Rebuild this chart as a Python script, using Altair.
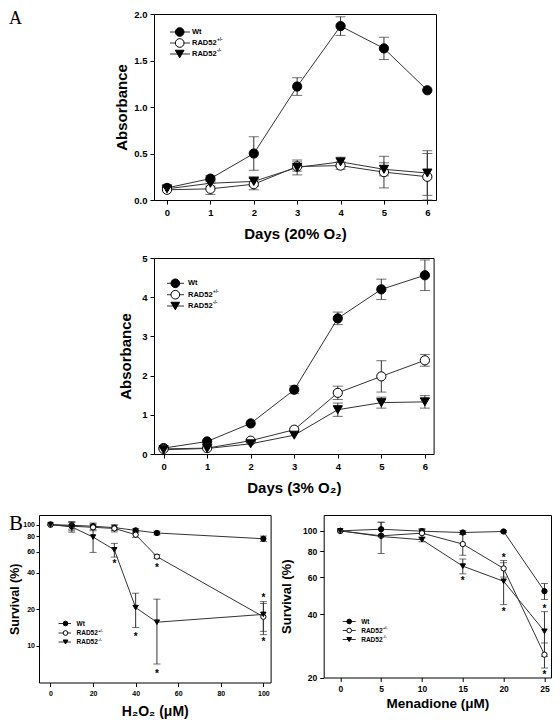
import altair as alt
import pandas as pd

# ---------------- data ----------------
series_names = ["Wt", "RAD52+/-", "RAD52-/-"]
legend_main = ["Wt", "RAD52", "RAD52"]
legend_sup = ["", "+/-", "-/-"]

days = [0, 1, 2, 3, 4, 5, 6]
# Panel A, 20% O2
a20_wt = [0.13, 0.23, 0.50, 1.22, 1.87, 1.63, 1.18]
a20_wt_err = [0.0, 0.03, 0.18, 0.095, 0.10, 0.12, 0.0]
a20_het = [0.11, 0.12, 0.17, 0.36, 0.37, 0.30, 0.25]
a20_het_err = [0.0, 0.06, 0.06, 0.05, 0.04, 0.17, 0.25]
a20_ko = [0.12, 0.18, 0.20, 0.35, 0.41, 0.33, 0.29]
a20_ko_err = [0.0, 0.03, 0.05, 0.08, 0.05, 0.07, 0.24]

# Panel A, 3% O2
a3_wt = [0.15, 0.32, 0.78, 1.64, 3.46, 4.20, 4.56]
a3_wt_err = [0.0, 0.0, 0.0, 0.10, 0.16, 0.26, 0.39]
a3_het = [0.13, 0.15, 0.34, 0.62, 1.56, 1.98, 2.39]
a3_het_err = [0.0, 0.0, 0.0, 0.0, 0.17, 0.40, 0.15]
a3_ko = [0.11, 0.14, 0.26, 0.48, 1.13, 1.31, 1.33]
a3_ko_err = [0.0, 0.0, 0.0, 0.0, 0.17, 0.14, 0.16]

# Panel B, H2O2
h2o2 = [0, 10, 20, 30, 40, 50, 100]
h_wt = [100, 98.7, 97, 94.4, 89.7, 85.3, 76.5]
h_wt_err = [0, 7, 6, 5, 3, 3, 4]
h_het = [100, 97, 95, 93, 82.6, 54.5, 17.4]
h_het_err = [0, 8, 6, 6, 4, 2, 5]
h_ko = [100, 95.6, 79, 62, 20.7, 15.7, 18.2]
h_ko_err = [0, 9, 20, 8, 6.5, 8.6, 5]
h_star_x = [30, 40, 50, 50, 100, 100]
h_star_y = [49, 12.4, 45.9, 6.1, 25.9, 11.3]

# Panel B, Menadione
men = [0, 5, 10, 15, 20, 25]
m_wt = [100, 101.8, 99.6, 98.2, 99.3, 51.6]
m_wt_err = [0, 8, 3, 2, 1, 4.5]
m_het = [100, 94.7, 97.5, 86.5, 66.2, 25.7]
m_het_err = [0, 0, 4, 10, 6, 3.5]
m_ko = [100, 94, 90.7, 67.9, 57.5, 33.2]
m_ko_err = [0, 16, 2, 5.5, 13, 8]
m_star_x = [15, 20, 20, 25, 25]
m_star_y = [59, 76.2, 42.1, 43.2, 21.1]

LINE = "#333333"
FONT = "Liberation Sans"


def long_df(xs, vals, errs):
    rows = []
    for name, v, e in zip(series_names, vals, errs):
        for x, vi, ei in zip(xs, v, e):
            rows.append({"x": x, "v": vi, "err": ei, "series": name})
    return pd.DataFrame(rows)


dummy = pd.DataFrame({"k": [0]})


def legend_layers(ys, line0, line1, sym_x, text_x, sym_size, fs):
    layers = []
    shapes = ["circle", "circle", "triangle-down"]
    fills = ["black", "white", "black"]
    for i, y in enumerate(ys):
        layers.append(
            alt.Chart(dummy).mark_rule(color=LINE, strokeWidth=1).encode(
                x=alt.value(line0), x2=alt.value(line1), y=alt.value(y)
            )
        )
        layers.append(
            alt.Chart(dummy).mark_point(
                shape=shapes[i], filled=True, fill=fills[i], stroke="black",
                strokeWidth=1, opacity=1, size=sym_size
            ).encode(x=alt.value(sym_x), y=alt.value(y))
        )
        layers.append(
            alt.Chart(dummy).mark_text(
                text=legend_main[i], font=FONT, fontSize=fs, fontWeight="bold",
                align="left", baseline="middle", color="black"
            ).encode(x=alt.value(text_x), y=alt.value(y))
        )
        if legend_sup[i]:
            layers.append(
                alt.Chart(dummy).mark_text(
                    text=legend_sup[i], font=FONT, fontSize=fs * 0.6, fontWeight="bold",
                    align="left", baseline="middle", color="black"
                ).encode(x=alt.value(text_x + 3.28 * fs + 0.5), y=alt.value(y - fs * 0.38))
            )
    return layers


def panel(df, xdom, xvals, ydom, yvals, ylog, yfmt, xtitle, ytitle, w, h,
          lab_fs, title_fs, xtp, ytp, pt_size, cap, leg, stars=None, extra=None,
          xtitle_fs=None, ytick=4, ylabpad=3):
    xs = alt.Scale(domain=xdom, nice=False, zero=False)
    if ylog:
        ys = alt.Scale(type="log", domain=ydom, nice=False)
    else:
        ys = alt.Scale(domain=ydom, nice=False, zero=False)
    xaxis = alt.Axis(values=xvals, format="d", title=xtitle, labelFontSize=lab_fs,
                     titleFontSize=xtitle_fs or title_fs, titlePadding=xtp, tickSize=4,
                     labelPadding=3)
    yaxis = alt.Axis(values=yvals, format=yfmt, title=ytitle, labelFontSize=lab_fs,
                     titleFontSize=title_fs, titlePadding=ytp, tickSize=ytick,
                     labelPadding=ylabpad)

    def X():
        return alt.X("x:Q", scale=xs, axis=xaxis)

    def Y(f):
        return alt.Y(f, scale=ys, axis=yaxis)

    shape = alt.Shape("series:N", scale=alt.Scale(domain=series_names,
                      range=["circle", "circle", "triangle-down"]), legend=None)
    fill = alt.Fill("series:N", scale=alt.Scale(domain=series_names,
                    range=["black", "white", "black"]), legend=None)
    base = alt.Chart(df)
    lines = base.mark_line(color=LINE, strokeWidth=1).encode(
        x=X(), y=Y("v:Q"), detail="series:N")
    bars = base.transform_filter("datum.err > 0").transform_calculate(
        lo="datum.v - datum.err", hi="datum.v + datum.err"
    ).mark_errorbar(color=LINE, thickness=1, ticks={"size": cap}).encode(
        x=X(), y=Y("lo:Q"), y2="hi:Q")
    pts = base.mark_point(filled=True, opacity=1, stroke="black", strokeWidth=1,
                          size=pt_size).encode(x=X(), y=Y("v:Q"), shape=shape, fill=fill)
    layers = [lines, bars, pts]
    if stars is not None:
        layers.append(alt.Chart(stars).mark_text(
            text="*", font=FONT, fontSize=10, fontWeight="bold", color="black",
            baseline="middle", dy=2).encode(x=X(), y=Y("v:Q")))
    layers += legend_layers(**leg)
    if extra is not None:
        layers += extra
    return alt.layer(*layers).properties(width=w, height=h)


dfA1 = long_df(days, [a20_wt, a20_het, a20_ko], [a20_wt_err, a20_het_err, a20_ko_err])
dfA2 = long_df(days, [a3_wt, a3_het, a3_ko], [a3_wt_err, a3_het_err, a3_ko_err])
dfB1 = long_df(h2o2, [h_wt, h_het, h_ko], [h_wt_err, h_het_err, h_ko_err])
dfB2 = long_df(men, [m_wt, m_het, m_ko], [m_wt_err, m_het_err, m_ko_err])
starsB1 = pd.DataFrame({"x": h_star_x, "v": h_star_y})
starsB2 = pd.DataFrame({"x": m_star_x, "v": m_star_y})

H1 = 186
H2 = 196
rowA1 = panel(dfA1, [-0.3, 6.2], days, [0, 2], [0, 0.5, 1.0, 1.5, 2.0], False, ".1f",
              "Days (20% O₂)", "Absorbance", 282, H1, 9.5, 15, 10, 4, 85, 10,
              dict(ys=[18, 29, 40], line0=16, line1=36, sym_x=25.7, text_x=38,
                   sym_size=75, fs=7.5))
rowA2 = panel(dfA2, [-0.22, 6.2], days, [0, 5], [0, 1, 2, 3, 4, 5], False, "d",
              "Days (3% O₂)", "Absorbance", 279.6, H2, 9.5, 15, 10, 8, 85, 10,
              dict(ys=[25.3, 36.7, 48], line0=13, line1=30, sym_x=21.3, text_x=34,
                   sym_size=75, fs=7.5))

labelB = alt.Chart(dummy).mark_text(
    text="B", font="Liberation Serif", fontSize=21, align="left", baseline="top",
    color="black").encode(x=alt.value(-30), y=alt.value(-2))

rowB1 = panel(dfB1, [-5.4, 103.4], [0, 20, 40, 60, 80, 100], [5, 120],
              [10, 20, 40, 60, 80, 100], True, "d", "H₂O₂ (μM)", "Survival (%)",
              231.6, 167.5, 7, 12.5, 8, 1, 28, 7,
              dict(ys=[108.5, 118, 127], line0=19.5, line1=32, sym_x=26.5, text_x=37.5,
                   sym_size=22, fs=6.5),
              stars=starsB1, extra=[labelB], xtitle_fs=14, ytick=3, ylabpad=1.5)
rowB2 = panel(dfB2, [-2.03, 25.8], men, [20, 119], [20, 40, 60, 80, 100], True, "d",
              "Menadione (μM)", "Survival (%)", 227.3, 162.5, 8.5, 13, 3, 9, 28, 7,
              dict(ys=[106.5, 115.5, 124.5], line0=19, line1=32, sym_x=25.5, text_x=37.5,
                   sym_size=22, fs=6.5),
              stars=starsB2, xtitle_fs=13.5)

spacer1 = alt.Chart(dummy).mark_text(
    text="A", font="Liberation Serif", fontSize=18, align="left", baseline="top",
    color="black").encode(x=alt.value(-30), y=alt.value(-4)).properties(
    width=114.6, height=237.5, view=alt.ViewBackground(strokeOpacity=0))
spacer2 = alt.Chart(dummy).mark_text(text=" ", fontSize=1).encode(
    x=alt.value(0), y=alt.value(0)).properties(
    width=114.3, height=253.5, view=alt.ViewBackground(strokeOpacity=0))

row1 = alt.hconcat(spacer1, rowA1, spacing=0, bounds="flush")
row2 = alt.hconcat(spacer2, rowA2, spacing=0, bounds="flush")
row3 = alt.hconcat(rowB1, rowB2, spacing=52.7, bounds="flush")

chart = alt.vconcat(row1, row2, row3, spacing=0).properties(padding=0)

chart = chart.configure_axis(
    labelFont=FONT, titleFont=FONT, labelColor="black", titleColor="black",
    tickColor="black", tickWidth=1, domain=False, grid=False,
    labelFontWeight="bold", titleFontWeight="bold"
).configure_view(stroke="black", strokeWidth=1)

chart.save("out.html", embed_options={"renderer": "svg", "actions": False})
